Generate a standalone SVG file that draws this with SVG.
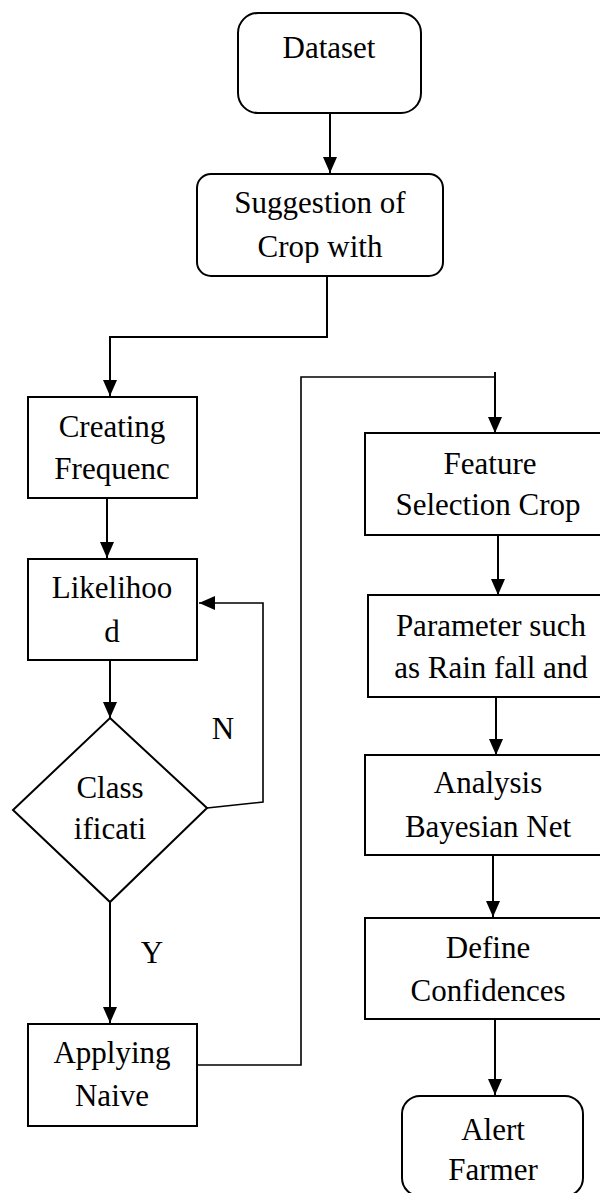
<svg xmlns="http://www.w3.org/2000/svg" width="600" height="1193" viewBox="0 0 600 1193">
<style>
.box{fill:#fff;stroke:#000;stroke-width:2}
.t{font-family:'Liberation Serif',serif;font-size:31px;fill:#000;text-anchor:middle}
.c{fill:none;stroke:#000;stroke-width:2}
.c1{fill:none;stroke:#000;stroke-width:1.6}
</style>
<defs>
<marker id="ah" markerUnits="userSpaceOnUse" markerWidth="16" markerHeight="16" viewBox="0 0 16 16" refX="16" refY="8" orient="auto">
<path d="M0,1 L16,8 L0,15 Z" fill="#000"/>
</marker>
<clipPath id="clipSug"><rect x="190" y="170" width="260" height="93"/></clipPath>
</defs>
<rect width="600" height="1193" fill="#fff"/>
<g id="connectors">
<path class="c" d="M330,113 V173" marker-end="url(#ah)"/>
<path class="c" d="M327,276 V337 H110 V396" marker-end="url(#ah)"/>
<path class="c" d="M107,498 V558" marker-end="url(#ah)"/>
<path class="c" d="M110,660 V718" marker-end="url(#ah)"/>
<path class="c1" d="M207,808 L263,802 V603 H199" marker-end="url(#ah)"/>
<path class="c" d="M110,902 V1023" marker-end="url(#ah)"/>
<path class="c1" d="M197,1065 H301 V377 H494"/>
<path class="c" d="M495,372 V433" marker-end="url(#ah)"/>
<path class="c" d="M498,535 V595" marker-end="url(#ah)"/>
<path class="c" d="M496,697 V755" marker-end="url(#ah)"/>
<path class="c" d="M493,855 V917" marker-end="url(#ah)"/>
<path class="c" d="M495,1019 V1095" marker-end="url(#ah)"/>
</g>
<g id="dataset">
<rect class="box" x="238" y="13" width="183" height="100" rx="20"/>
<text class="t" x="329" y="58">Dataset</text>
</g>
<g id="suggestion">
<rect class="box" x="197" y="174" width="246" height="102" rx="14"/>
<g clip-path="url(#clipSug)">
<text class="t" x="320" y="213">Suggestion of</text>
<text class="t" x="320" y="257">Crop with</text>
</g>
</g>
<g id="creating">
<rect class="box" x="28" y="397" width="169" height="101"/>
<text class="t" x="112" y="437">Creating</text>
<text class="t" x="112" y="479">Frequenc</text>
</g>
<g id="likelihood">
<rect class="box" x="28" y="559" width="169" height="101"/>
<text class="t" x="112" y="598">Likelihoo</text>
<text class="t" x="112" y="642">d</text>
</g>
<g id="classification">
<polygon class="box" points="110,718 207,808 110,902 13,810"/>
<text class="t" x="110" y="798">Class</text>
<text class="t" x="110" y="839">ificati</text>
</g>
<g id="labelN"><text class="t" x="223" y="739">N</text></g>
<g id="labelY"><text class="t" x="152" y="963">Y</text></g>
<g id="applying">
<rect class="box" x="28" y="1024" width="169" height="102"/>
<text class="t" x="112" y="1063">Applying</text>
<text class="t" x="112" y="1106">Naive</text>
</g>
<g id="feature">
<rect class="box" x="365" y="433" width="250" height="102"/>
<text class="t" x="490" y="474">Feature</text>
<text class="t" x="488" y="515">Selection Crop</text>
</g>
<g id="parameter">
<rect class="box" x="368" y="595" width="250" height="102"/>
<text class="t" x="491" y="636">Parameter such</text>
<text class="t" x="491" y="678">as Rain fall and</text>
</g>
<g id="analysis">
<rect class="box" x="365" y="755" width="250" height="100"/>
<text class="t" x="488" y="793">Analysis</text>
<text class="t" x="488" y="837">Bayesian Net</text>
</g>
<g id="define">
<rect class="box" x="365" y="918" width="250" height="101"/>
<text class="t" x="488" y="958">Define</text>
<text class="t" x="488" y="1001">Confidences</text>
</g>
<g id="alert">
<rect class="box" x="402" y="1096" width="181" height="100" rx="18"/>
<text class="t" x="493" y="1140">Alert</text>
<text class="t" x="493" y="1180">Farmer</text>
</g>
</svg>
